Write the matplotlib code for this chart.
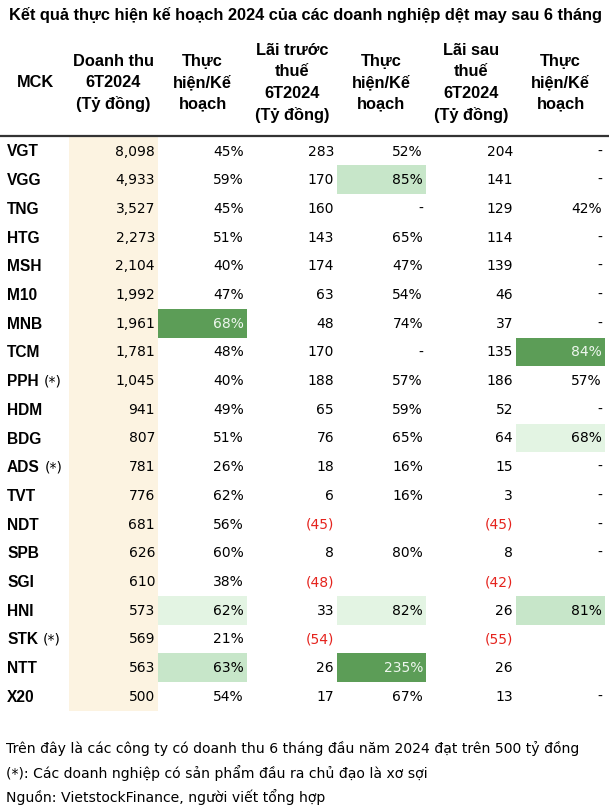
import numpy as np
import matplotlib
matplotlib.use('Agg')
import matplotlib.pyplot as plt
from matplotlib.patches import Rectangle

# Dữ liệu bảng
title = "Kết quả thực hiện kế hoạch 2024 của các doanh nghiệp dệt may sau 6 tháng"
headers = [["MCK"], ["Doanh thu", "6T2024", "(Tỷ đồng)"], ["Thực", "hiện/Kế", "hoạch"],
           ["Lãi trước", "thuế", "6T2024", "(Tỷ đồng)"], ["Thực", "hiện/Kế", "hoạch"],
           ["Lãi sau", "thuế", "6T2024", "(Tỷ đồng)"], ["Thực", "hiện/Kế", "hoạch"]]
mck = ["VGT", "VGG", "TNG", "HTG", "MSH", "M10", "MNB", "TCM", "PPH", "HDM",
       "BDG", "ADS", "TVT", "NDT", "SPB", "SGI", "HNI", "STK", "NTT", "X20"]
fiber = ["PPH", "ADS", "STK"]
revenue = [8098, 4933, 3527, 2273, 2104, 1992, 1961, 1781, 1045, 941,
           807, 781, 776, 681, 626, 610, 573, 569, 563, 500]
revenue_pct = [45, 59, 45, 51, 40, 47, 68, 48, 40, 49,
               51, 26, 62, 56, 60, 38, 62, 21, 63, 54]
pbt = [283, 170, 160, 143, 174, 63, 48, 170, 188, 65,
       76, 18, 6, -45, 8, -48, 33, -54, 26, 17]
# "-" = không có kế hoạch, "" = để trống
pbt_pct = [52, 85, "-", 65, 47, 54, 74, "-", 57, 59,
           65, 16, 16, "", 80, "", 82, "", 235, 67]
npat = [204, 141, 129, 114, 139, 46, 37, 135, 186, 52,
        64, 15, 3, -45, 8, -42, 26, -55, 26, 13]
npat_pct = ["-", "-", 42, "-", "-", "-", "-", 84, 57, "-",
            68, "-", "-", "-", "-", "", 81, "", "", "-"]
# ô tô màu: (mã, cột, mức)
highlights = [("VGG", 4, "mid"), ("MNB", 2, "dark"), ("TCM", 6, "dark"),
              ("BDG", 6, "light"), ("HNI", 2, "light"), ("HNI", 4, "light"),
              ("HNI", 6, "mid"), ("NTT", 2, "mid"), ("NTT", 4, "dark")]
notes = ["Trên đây là các công ty có doanh thu 6 tháng đầu năm 2024 đạt trên 500 tỷ đồng",
         "(*): Các doanh nghiệp có sản phẩm đầu ra chủ đạo là xơ sợi",
         "Nguồn: VietstockFinance, người viết tổng hợp"]

fill = {"dark": "#5c9d57", "mid": "#c7e6c9", "light": "#e3f4e3"}
red = "#e5231d"
body_font = "DejaVu Sans"
head_font = "Liberation Sans"
body_size = 10


def fmt_num(v):
    if v < 0:
        return f"({-v:,})"
    return f"{v:,}"


def fmt_pct(v):
    if isinstance(v, str):
        return v
    return f"{v}%"


W, H = 609, 811
fig = plt.figure(figsize=(W / 100, H / 100), dpi=100)
ax = fig.add_axes([0, 0, 1, 1])
ax.set_xlim(0, W)
ax.set_ylim(H, 0)
ax.axis('off')

col_edges = [69, 158, 247, 337, 426, 516, 605]
row0, row_h = 151, 28.7
rows_y = [row0 + i * row_h for i in range(len(mck))]

# tiêu đề
ax.text(W / 2 + 1, 20, title, ha='center', va='baseline', fontsize=11.8,
        fontweight='bold', family=head_font)

# tiêu đề cột: từng dòng, căn theo đường chân chữ
centers = [36] + [(col_edges[i] + col_edges[i + 1]) / 2 for i in range(6)]
mid_base, line_h = 87.3, 21.6
for x, lines in zip(centers, headers):
    n = len(lines)
    for j, s in enumerate(lines):
        yb = mid_base + (j - (n - 1) / 2) * line_h
        ax.text(x, yb, s, ha='center', va='baseline', fontsize=11.8,
                fontweight='bold', family=head_font)
ax.plot([0, W], [136, 136], color='#333333', lw=1.6, solid_capstyle='butt')

# cột doanh thu nền be
ax.add_patch(Rectangle((col_edges[0], 137), col_edges[1] - col_edges[0],
                       rows_y[-1] + row_h / 2 - 137, color='#fcf3e1', lw=0))

for code, col, level in highlights:
    y = rows_y[mck.index(code)]
    ax.add_patch(Rectangle((col_edges[col - 1], y - row_h / 2),
                           col_edges[col] - col_edges[col - 1], row_h,
                           color=fill[level], lw=0))
dark_cells = {(c, k) for c, k, lv in highlights if lv == "dark"}

fig.canvas.draw()
for i, code in enumerate(mck):
    y = rows_y[i]
    t = ax.text(7, y + 1, code, ha='left', va='center', fontsize=11.2,
                fontweight='bold', family=head_font)
    if code in fiber:
        bb = t.get_window_extent(renderer=fig.canvas.get_renderer())
        x_end = ax.transData.inverted().transform((bb.x1, 0))[0]
        ax.text(x_end + 5, y + 0.5, "(*)", ha='left', va='center',
                fontsize=body_size, family=body_font)
    cells = [fmt_num(revenue[i]), fmt_pct(revenue_pct[i]), fmt_num(pbt[i]),
             fmt_pct(pbt_pct[i]), fmt_num(npat[i]), fmt_pct(npat_pct[i])]
    values = [revenue[i], None, pbt[i], None, npat[i], None]
    for k, (s, v) in enumerate(zip(cells, values), start=1):
        color = 'black'
        if v is not None and v < 0:
            color = red
        if (code, k) in dark_cells:
            color = '#eef7ee'
        ax.text(col_edges[k] - 3, y + 0.5, s, ha='right', va='center',
                fontsize=body_size, family=body_font, color=color)

for j, line in enumerate(notes):
    ax.text(6, 749 + j * 24, line, ha='left', va='center', fontsize=10.1,
            family=body_font)

fig.savefig('out.png', dpi=100, facecolor='white')
